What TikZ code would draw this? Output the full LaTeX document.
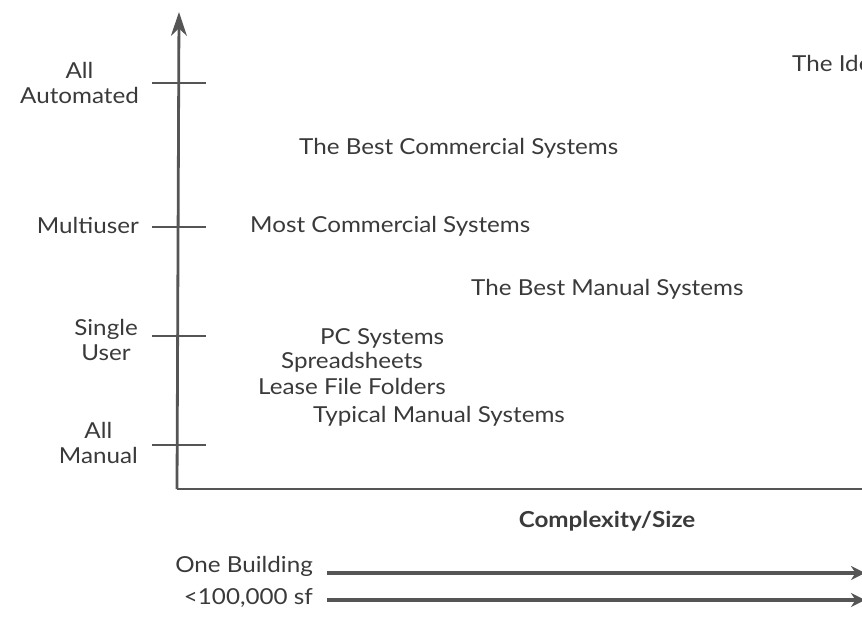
\documentclass[tikz,border=0pt]{standalone}
\usepackage{fontspec}
\setmainfont{Lato}[FakeStretch=1.1]
\usetikzlibrary{arrows.meta}
\definecolor{ink}{HTML}{3A3A3A}
\definecolor{axis}{HTML}{555555}
\begin{document}
\begin{tikzpicture}[x=1pt,y=-1pt,
  every node/.style={text=ink, font=\fontsize{22}{25}\selectfont, inner sep=0pt},
  lab/.style={anchor=mid west, yshift=-5pt},
  ylab/.style={align=center, anchor=east},
  axisline/.style={draw=axis, line width=2.8pt},
  tickline/.style={draw=axis, line width=2.4pt},
  bigarrow/.style={draw=axis, line width=4pt, -{Stealth[length=14pt,width=14pt]}}]
\useasboundingbox (0,0) rectangle (862,629);
\clip (0,0) rectangle (862,629);
% axes
\coordinate (o) at (177,489);
\coordinate (ytop) at (179,12);
\coordinate (xend) at (900,489);
\draw[axisline, -{Stealth[length=24pt,width=16pt]}] (o) -- (ytop);
\draw[axisline] (o) -- (xend);
% ticks
\foreach \n/\y in {aa/83, mu/227, su/336, am/445}{
  \coordinate (\n l) at (152,\y);
  \coordinate (\n r) at (206,\y);
  \draw[tickline] (\n l) -- (\n r);
}
% y labels
\node[ylab] (lAA) at (139,83) {All\\Automated};
\node[ylab] (lMU) at (139,225) {Multiuser};
\node[ylab] (lSU) at (138,340) {Single\\User};
\node[ylab] (lAM) at (138,443) {All\\Manual};
% plot texts
\node[lab] (ideal) at (792,64) {The Ideal System};
\node[lab] (bcs) at (299,147) {The Best Commercial Systems};
\node[lab] (mcs) at (250,225) {Most Commercial Systems};
\node[lab] (bms) at (471,288) {The Best Manual Systems};
\node[lab] (pcs) at (320,337) {PC Systems};
\node[lab] (spr) at (281,361) {Spreadsheets};
\node[lab] (lff) at (258,387) {Lease File Folders};
\node[lab] (tms) at (313,415) {Typical Manual Systems};
% x label
\node[anchor=mid, yshift=-5pt, font=\fontsize{22}{25}\selectfont\bfseries] (cx) at (607,520) {Complexity/Size};
% bottom arrows
\node[anchor=mid east, yshift=-5pt] (ob) at (313,565) {One Building};
\node[anchor=mid east, yshift=-5pt] (sf) at (313,597) {<100,000 sf};
\coordinate (obend) at (865,573);
\coordinate (sfend) at (865,600);
\coordinate (obstart) at (327,573);
\coordinate (sfstart) at (327,600);
\draw[bigarrow] (obstart) -- (obend);
\draw[bigarrow] (sfstart) -- (sfend);
\end{tikzpicture}
\end{document}
